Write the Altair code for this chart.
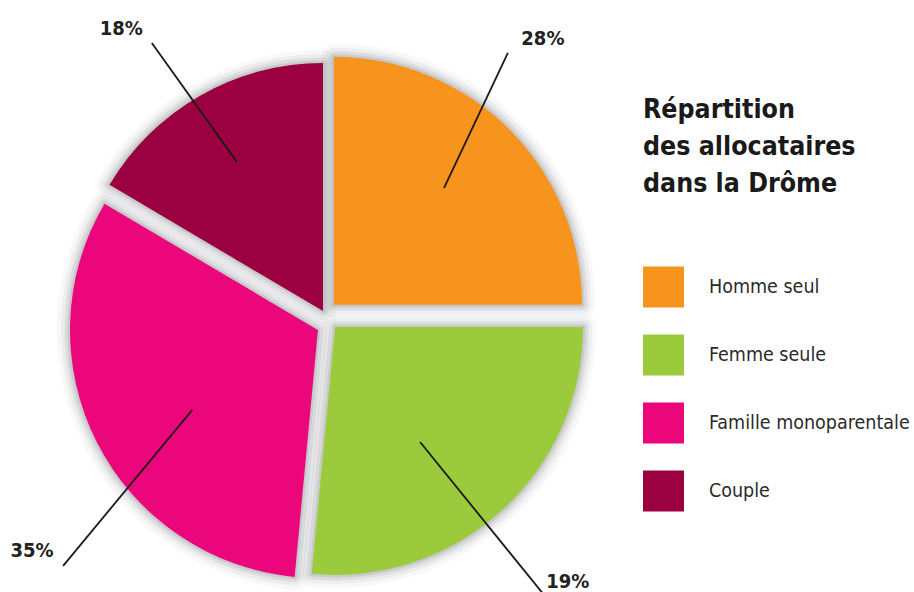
import altair as alt
import pandas as pd

# ---- data ----
categories = ["Homme seul", "Femme seule", "Famille monoparentale", "Couple"]
percent_labels = [28, 19, 35, 18]          # printed labels
drawn_share = [25.0, 26.5, 32.0, 16.5]     # share of the circle as actually drawn
colors = ["#F7941E", "#9BCA3C", "#EC067C", "#9B0040"]

# ---- layout (styling) parameters ----
CX, CY = 327, 318          # pie centre (px)
R = 248                    # pie radius (px)
explode_angle = [28, 138, 217, 330]   # direction of the explode offset (deg)
explode_dist = [15, 12, 15, 8]        # explode distance (px)
lead_in_angle = [42.0, 143.1, 235.7, 330.0]
lead_in_r = [175, 155, 163, 180]
lead_out_angle = [34.3, 141.9, 226.8, 327.5]
lead_out_r = [321, 358, 362, 326]
label_angle = [37.7, 137.6, 231.7, 324.6]
label_r = [353, 357, 376, 355]

FONT = "DejaVu Sans Condensed, Liberation Sans Narrow, sans-serif"

df = pd.DataFrame({
    "category": categories,
    "pct": percent_labels,
    "share": drawn_share,
    "order": list(range(len(categories))),
    "ea": explode_angle,
    "ed": explode_dist,
    "ia": lead_in_angle,
    "ir": lead_in_r,
    "oa": lead_out_angle,
    "or_": lead_out_r,
    "la": label_angle,
    "lr": label_r,
})
df["lab"] = df["pct"].astype(str) + "%"

base = alt.Chart(df).transform_window(
    cum="sum(share)", sort=[alt.SortField("order")], frame=[None, 0]
).transform_calculate(
    start="(datum.cum - datum.share) / 100 * 2 * PI",
    end="datum.cum / 100 * 2 * PI",
    cx=f"{CX} + datum.ed * sin(datum.ea * PI / 180)",
    cy=f"{CY} - datum.ed * cos(datum.ea * PI / 180)",
    x1=f"{CX} + datum.ir * sin(datum.ia * PI / 180)",
    y1=f"{CY} - datum.ir * cos(datum.ia * PI / 180)",
    x2=f"{CX} + datum.or_ * sin(datum.oa * PI / 180)",
    y2=f"{CY} - datum.or_ * cos(datum.oa * PI / 180)",
    lx=f"{CX} + datum.lr * sin(datum.la * PI / 180)",
    ly=f"{CY} - datum.lr * cos(datum.la * PI / 180)",
)

arc_enc = dict(
    theta=alt.Theta("start:Q", scale=None),
    theta2=alt.Theta2("end:Q"),
    x=alt.X("cx:Q", scale=None, axis=None),
    y=alt.Y("cy:Q", scale=None, axis=None),
)

shadows = [
    base.mark_arc(radius=R, fillOpacity=0, stroke="#3c3f48", strokeOpacity=op,
                  strokeWidth=w, strokeJoin="round").encode(**arc_enc)
    for w, op in [(26, 0.035), (18, 0.06), (11, 0.09), (5, 0.12)]
]

arcs = base.mark_arc(radius=R, strokeWidth=0).encode(
    **arc_enc,
    color=alt.Color(
        "category:N",
        scale=alt.Scale(domain=categories, range=colors),
        legend=alt.Legend(
            orient="none", legendX=643, legendY=97,
            title=["Répartition", "des allocataires", "dans la Drôme"],
            titleFont=FONT, titleFontSize=26.5, titleFontWeight="bold",
            titleColor="#1a1a1a", titleLineHeight=37, titlePadding=69,
            titleLimit=400, titleBaseline="top",
            symbolType="square", symbolSize=1681, symbolStrokeWidth=0,
            symbolOpacity=1,
            labelFont=FONT, labelFontSize=19.5, labelColor="#2b2b2b",
            labelOffset=25, labelLimit=400, rowPadding=27, padding=0,
        ),
    ),
)

rules = base.mark_rule(color="#1a1a1a", strokeWidth=1.8).encode(
    x=alt.X("x1:Q", scale=None, axis=None),
    y=alt.Y("y1:Q", scale=None, axis=None),
    x2="x2:Q",
    y2="y2:Q",
)

texts = base.mark_text(font=FONT, fontSize=20, fontWeight="bold", color="#222222",
                       align="center", baseline="middle").encode(
    x=alt.X("lx:Q", scale=None, axis=None),
    y=alt.Y("ly:Q", scale=None, axis=None),
    text="lab:N",
)

chart = alt.layer(*shadows, arcs, rules, texts).properties(
    width=914, height=592,
    autosize=alt.AutoSizeParams(type="none"),
    padding=0,
    background="white",
).configure_view(stroke=None)

chart.save("out.html", embed_options={"renderer": "svg", "actions": False})
